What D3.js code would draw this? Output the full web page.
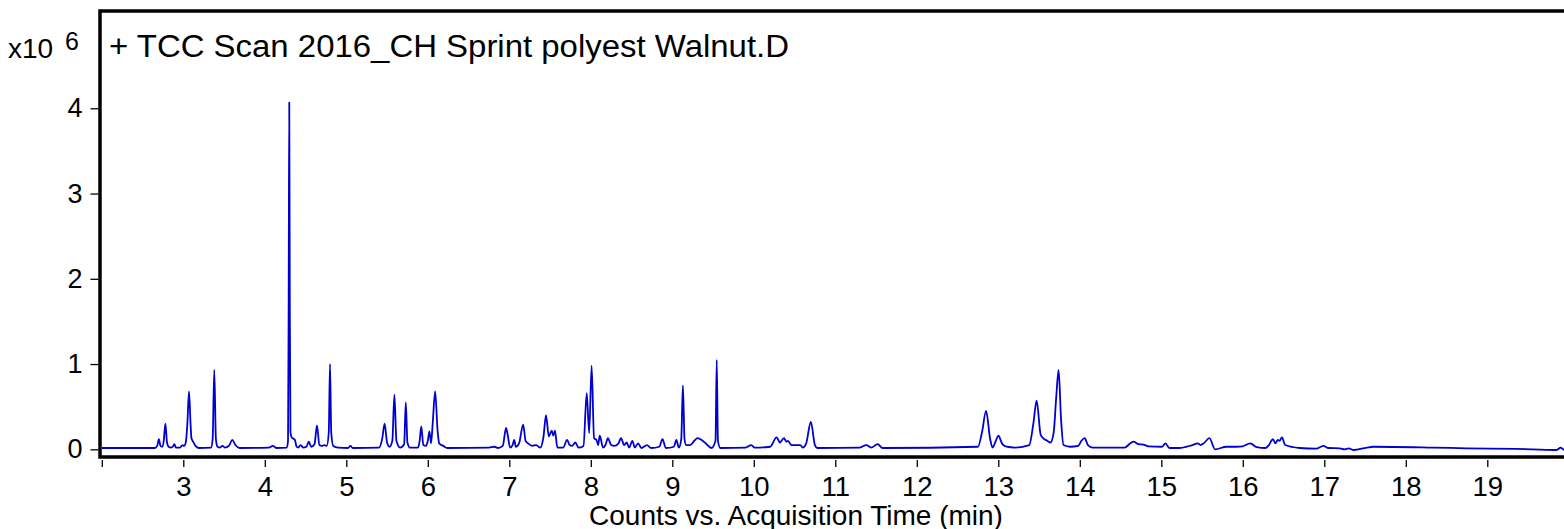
<!DOCTYPE html>
<html>
<head>
<meta charset="utf-8">
<script src="https://cdn.jsdelivr.net/npm/d3@7"></script>
<style>
  html, body { margin: 0; padding: 0; background: #fff; }
  svg { display: block; }
  text { font-family: "Liberation Sans", Arial, sans-serif; fill: #000; }
</style>
</head>
<body>
<svg id="chart" width="1564" height="529"></svg>
<script>
// ---- data ----
const titleText = "+ TCC Scan 2016_CH Sprint polyest Walnut.D";
const xLabelText = "Counts vs. Acquisition Time (min)";
const xTickValues = [2,3,4,5,6,7,8,9,10,11,12,13,14,15,16,17,18,19];
const xTickLabels = ["","3","4","5","6","7","8","9","10","11","12","13","14","15","16","17","18","19"];
const yTickValues = [0,1,2,3,4];
const yTickLabels = ["0","1","2","3","4"];
// acquisition time (min), counts (x10^6)
const chromatogram = [
  [2.00,0.015],[2.65,0.015],[2.68,0.04],[2.70,0.12],[2.72,0.04],[2.74,0.03],[2.76,0.10],[2.78,0.30],[2.80,0.08],[2.82,0.03],
  [2.85,0.02],[2.87,0.03],[2.89,0.06],[2.91,0.02],[2.96,0.02],[2.99,0.05],[3.01,0.04],[3.03,0.08],[3.05,0.30],[3.07,0.68],
  [3.09,0.28],[3.10,0.13],[3.12,0.09],[3.15,0.04],[3.19,0.015],[3.34,0.02],[3.36,0.12],[3.38,0.93],[3.40,0.12],[3.42,0.03],
  [3.45,0.02],[3.48,0.04],[3.51,0.02],[3.56,0.04],[3.60,0.11],[3.64,0.05],[3.69,0.015],[4.05,0.02],[4.10,0.04],[4.14,0.015],
  [4.27,0.02],[4.285,0.10],[4.293,1.8],[4.300,4.07],[4.307,1.6],[4.315,0.20],[4.33,0.14],[4.37,0.11],[4.39,0.03],[4.41,0.02],
  [4.44,0.05],[4.47,0.02],[4.51,0.03],[4.54,0.09],[4.57,0.03],[4.61,0.06],[4.64,0.28],[4.67,0.05],[4.70,0.04],[4.73,0.05],
  [4.76,0.04],[4.785,0.20],[4.80,1.00],[4.815,0.20],[4.84,0.04],[4.90,0.02],[5.02,0.015],[5.05,0.04],[5.08,0.015],[5.40,0.02],
  [5.44,0.12],[5.47,0.30],[5.50,0.08],[5.53,0.03],[5.565,0.10],[5.59,0.64],[5.615,0.10],[5.66,0.02],[5.71,0.06],[5.73,0.55],
  [5.75,0.08],[5.78,0.02],[5.88,0.02],[5.90,0.10],[5.92,0.27],[5.945,0.05],[5.98,0.04],[6.00,0.10],[6.02,0.21],[6.04,0.07],
  [6.06,0.30],[6.09,0.68],[6.12,0.22],[6.14,0.07],[6.19,0.04],[6.24,0.015],[6.75,0.02],[6.82,0.03],[6.86,0.015],[6.92,0.04],
  [6.96,0.25],[6.98,0.17],[7.01,0.02],[7.04,0.05],[7.06,0.11],[7.08,0.03],[7.12,0.07],[7.17,0.29],[7.20,0.10],[7.23,0.07],
  [7.28,0.04],[7.33,0.05],[7.38,0.02],[7.42,0.15],[7.45,0.40],[7.485,0.15],[7.52,0.22],[7.54,0.16],[7.56,0.22],[7.59,0.02],
  [7.66,0.02],[7.71,0.11],[7.74,0.05],[7.77,0.04],[7.81,0.08],[7.85,0.02],[7.91,0.04],[7.95,0.66],[7.98,0.19],[8.01,0.98],
  [8.04,0.13],[8.07,0.11],[8.09,0.05],[8.11,0.16],[8.15,0.02],[8.18,0.05],[8.21,0.13],[8.25,0.05],[8.29,0.04],[8.34,0.07],
  [8.37,0.13],[8.41,0.05],[8.44,0.08],[8.47,0.02],[8.51,0.10],[8.54,0.02],[8.58,0.07],[8.62,0.015],[8.69,0.05],[8.74,0.015],
  [8.84,0.03],[8.88,0.12],[8.92,0.015],[9.02,0.03],[9.05,0.11],[9.08,0.02],[9.11,0.12],[9.13,0.75],[9.15,0.12],[9.17,0.05],
  [9.22,0.05],[9.27,0.10],[9.31,0.13],[9.36,0.11],[9.42,0.06],[9.48,0.015],[9.53,0.10],[9.545,1.05],[9.56,0.10],[9.59,0.015],
  [9.90,0.02],[9.97,0.05],[10.01,0.02],[10.20,0.03],[10.28,0.14],[10.32,0.08],[10.37,0.13],[10.40,0.09],[10.42,0.10],[10.46,0.05],
  [10.52,0.05],[10.57,0.05],[10.60,0.02],[10.64,0.06],[10.70,0.32],[10.75,0.05],[10.78,0.015],[11.30,0.02],[11.38,0.05],[11.44,0.02],
  [11.52,0.06],[11.58,0.015],[12.75,0.03],[12.80,0.20],[12.85,0.45],[12.90,0.12],[12.93,0.02],[12.97,0.10],[13.00,0.16],[13.05,0.06],
  [13.10,0.03],[13.20,0.02],[13.38,0.05],[13.43,0.30],[13.47,0.57],[13.52,0.17],[13.55,0.13],[13.60,0.10],[13.64,0.08],[13.68,0.20],
  [13.71,0.60],[13.74,0.93],[13.77,0.35],[13.80,0.05],[13.88,0.03],[13.98,0.04],[14.02,0.10],[14.06,0.13],[14.10,0.05],[14.16,0.02],
  [14.55,0.02],[14.62,0.07],[14.66,0.09],[14.72,0.06],[14.78,0.055],[14.84,0.035],[15.01,0.03],[15.05,0.07],[15.10,0.015],[15.22,0.015],
  [15.38,0.05],[15.45,0.07],[15.48,0.05],[15.52,0.07],[15.59,0.13],[15.66,0.00],[15.80,0.03],[15.92,0.03],[16.00,0.035],[16.09,0.07],
  [16.17,0.025],[16.28,0.015],[16.32,0.05],[16.37,0.12],[16.40,0.07],[16.43,0.11],[16.45,0.10],[16.48,0.14],[16.52,0.05],[16.70,0.015],
  [16.90,0.007],[16.99,0.04],[17.05,0.015],[17.19,0.012],[17.25,0.0],[17.30,0.01],[17.36,-0.008],[17.52,0.02],[17.60,0.03],[18.34,0.02],
  [18.75,0.012],[19.36,0.004],[19.85,-0.008],[19.90,0.02],[19.94,-0.005],[20.00,-0.005]
];

// ---- chart ----
const svg = d3.select("#chart");
const x = d3.scaleLinear().domain([2, 20]).range([101.8, 1568.8]);
const y = d3.scaleLinear().domain([0, 4]).range([449.3, 108.3]);

const plotLeft = 100, plotTop = 11, plotBottom = 457, plotRight = 1570;

svg.append("defs").append("clipPath").attr("id", "clip")
  .append("rect").attr("x", plotLeft + 1.5).attr("y", plotTop + 1.5)
  .attr("width", plotRight - plotLeft).attr("height", plotBottom - plotTop - 3);

// trace
const line = d3.line()
  .x(d => x(d[0])).y(d => y(d[1]))
  .curve(d3.curveMonotoneX);
svg.append("path")
  .datum(chromatogram)
  .attr("clip-path", "url(#clip)")
  .attr("fill", "none")
  .attr("stroke", "#0000d0")
  .attr("stroke-width", 1.8)
  .attr("stroke-linejoin", "round")
  .attr("d", line);

// frame
svg.append("rect")
  .attr("x", plotLeft).attr("y", plotTop)
  .attr("width", plotRight - plotLeft).attr("height", plotBottom - plotTop)
  .attr("fill", "none").attr("stroke", "#000").attr("stroke-width", 3.5);

// x axis
const xAxis = d3.axisBottom(x)
  .tickValues(xTickValues)
  .tickSize(7)
  .tickPadding(9)
  .tickFormat((d, i) => xTickLabels[i]);
const gx = svg.append("g").attr("transform", `translate(0,${plotBottom + 3})`).call(xAxis);
gx.select(".domain").remove();
gx.selectAll(".tick line").attr("stroke", "#000").attr("stroke-width", 1.3);
gx.selectAll(".tick text").attr("font-size", 27.5).attr("font-family", "Liberation Sans, Arial, sans-serif").attr("fill", "#000").attr("dy", "0.71em");

// y axis
const yAxis = d3.axisLeft(y)
  .tickValues(yTickValues)
  .tickSize(8)
  .tickPadding(8)
  .tickFormat((d, i) => yTickLabels[i]);
const gy = svg.append("g").attr("transform", `translate(${plotLeft - 1.5},0)`).call(yAxis);
gy.select(".domain").remove();
gy.selectAll(".tick line").attr("stroke", "#000").attr("stroke-width", 1.3);
gy.selectAll(".tick text").attr("font-size", 27).attr("font-family", "Liberation Sans, Arial, sans-serif").attr("fill", "#000");

// multiplier
svg.append("text").attr("x", 8).attr("y", 58).attr("font-size", 28).text("x10");
svg.append("text").attr("x", 65).attr("y", 50).attr("font-size", 25).text("6");

// title
svg.append("text").attr("x", 109).attr("y", 57).attr("font-size", 31)
  .attr("textLength", 680).attr("lengthAdjust", "spacingAndGlyphs")
  .text(titleText);

// x label
svg.append("text").attr("x", 796).attr("y", 524.5).attr("font-size", 28)
  .attr("text-anchor", "middle")
  .text(xLabelText);
</script>
</body>
</html>
